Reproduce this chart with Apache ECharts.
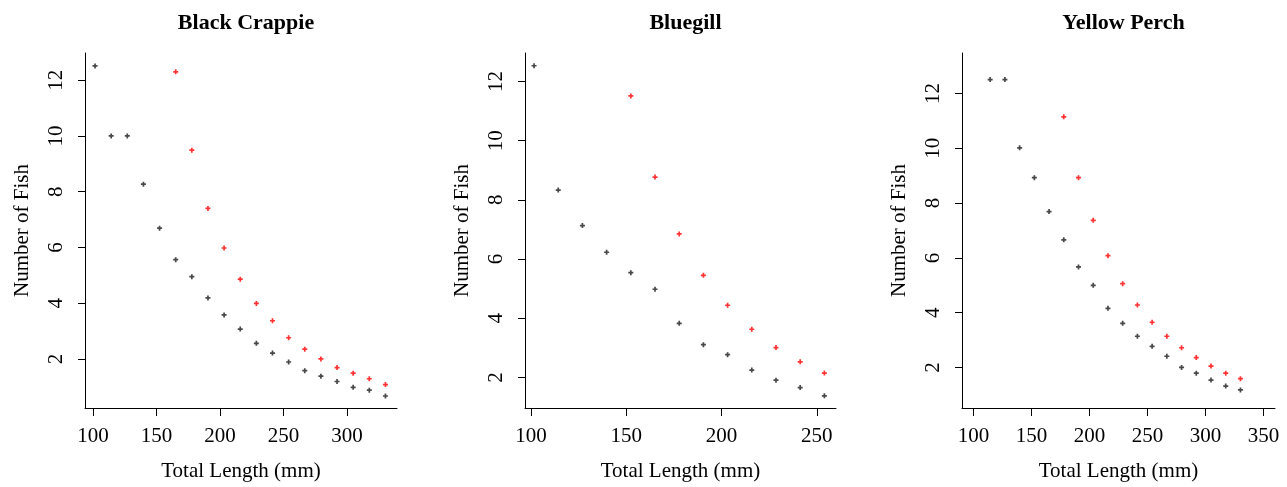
<!DOCTYPE html>
<html>
<head>
<meta charset="utf-8">
<script src="https://cdn.jsdelivr.net/npm/echarts@6/dist/echarts.min.js"></script>
<style>
html,body{margin:0;padding:0;background:#fff;}
#chart{width:1287px;height:487px;}
</style>
</head>
<body>
<div id="chart"></div>
<script>
// ---- data ----
const titles = ["Black Crappie", "Bluegill", "Yellow Perch"];

const crappieBlackLen = [101.6,114.3,127,139.7,152.4,165.1,177.8,190.5,203.2,215.9,228.6,241.3,254,266.7,279.4,292.1,304.8,317.5,330.2];
const crappieBlackNum = [12.51,10.0,10.0,8.27,6.69,5.56,4.95,4.19,3.58,3.07,2.56,2.21,1.89,1.58,1.38,1.19,0.98,0.88,0.67];
const crappieRedLen = [165.1,177.8,190.5,203.2,215.9,228.6,241.3,254,266.7,279.4,292.1,304.8,317.5,330.2];
const crappieRedNum = [12.30,9.49,7.40,5.98,4.86,3.99,3.37,2.76,2.35,2.0,1.69,1.49,1.29,1.08];

const bluegillBlackLen = [101.6,114.3,127,139.7,152.4,165.1,177.8,190.5,203.2,215.9,228.6,241.3,254];
const bluegillBlackNum = [12.53,8.33,7.13,6.23,5.54,4.98,3.83,3.11,2.77,2.25,1.91,1.66,1.38];
const bluegillRedLen = [152.4,165.1,177.8,190.5,203.2,215.9,228.6,241.3,254];
const bluegillRedNum = [11.51,8.77,6.85,5.45,4.44,3.63,3.01,2.53,2.15];

const perchBlackLen = [114.3,127,139.7,152.4,165.1,177.8,190.5,203.2,215.9,228.6,241.3,254,266.7,279.4,292.1,304.8,317.5,330.2];
const perchBlackNum = [12.51,12.51,10.02,8.93,7.69,6.66,5.67,5.0,4.16,3.61,3.14,2.77,2.41,2.0,1.79,1.54,1.32,1.18];
const perchRedLen = [177.8,190.5,203.2,215.9,228.6,241.3,254,266.7,279.4,292.1,304.8,317.5,330.2];
const perchRedNum = [11.15,8.93,7.37,6.08,5.06,4.28,3.65,3.14,2.72,2.36,2.05,1.79,1.59];

const xTicks1 = [100,150,200,250,300];
const xTicks2 = [100,150,200,250];
const xTicks3 = [100,150,200,250,300,350];
const yTicks = [2,4,6,8,10,12];

// ---- layout ----
const FONT = "Liberation Serif";
const panels = [
  {grid:{left:85, top:53, width:312, height:356}, x:[93.7,339.3], y:[0.24,12.975], xt:xTicks1,
   black:[crappieBlackLen,crappieBlackNum], red:[crappieRedLen,crappieRedNum]},
  {grid:{left:525, top:53, width:311, height:356}, x:[96.85,260.1], y:[0.97,12.96], xt:xTicks2,
   black:[bluegillBlackLen,bluegillBlackNum], red:[bluegillRedLen,bluegillRedNum]},
  {grid:{left:962, top:53, width:313, height:357}, x:[90,360], y:[0.52,13.48], xt:xTicks3,
   black:[perchBlackLen,perchBlackNum], red:[perchRedLen,perchRedNum]}
];

const zip = (a,b) => a.map((v,i)=>[v,b[i]]);
const plus = 'path://M3.3,0H6.7V3.3H10V6.7H6.7V10H3.3V6.7H0V3.3H3.3Z';

const option = {
  animation:false,
  backgroundColor:'#fff',
  title: panels.map((p,i)=>({
    text: titles[i],
    left: p.grid.left + p.grid.width/2,
    top: 7,
    textAlign:'center',
    textStyle:{fontFamily:FONT, fontWeight:'bold', fontSize:22, color:'#000'}
  })),
  grid: panels.map(p=>Object.assign({containLabel:false}, p.grid)),
  xAxis: panels.map((p,i)=>({
    type:'value', gridIndex:i, min:p.x[0], max:p.x[1],
    name:'Total Length (mm)', nameLocation:'middle', nameGap:53,
    nameTextStyle:{fontFamily:FONT, fontSize:21, color:'#000'},
    axisLine:{show:true, onZero:false, lineStyle:{color:'#000', width:1}},
    axisTick:{show:true, length:8, lineStyle:{color:'#000', width:1}, customValues:p.xt},
    axisLabel:{fontFamily:FONT, fontSize:21, color:'#000', margin:18, customValues:p.xt},
    splitLine:{show:false}
  })),
  yAxis: panels.map((p,i)=>({
    type:'value', gridIndex:i, min:p.y[0], max:p.y[1],
    name:'Number of Fish', nameLocation:'middle', nameGap:52,
    nameTextStyle:{fontFamily:FONT, fontSize:21, color:'#000'},
    axisLine:{show:true, onZero:false, lineStyle:{color:'#000', width:1}},
    axisTick:{show:true, length:7, lineStyle:{color:'#000', width:1}, customValues:yTicks},
    axisLabel:{fontFamily:FONT, fontSize:21, color:'#000', margin:18, rotate:90, customValues:yTicks},
    splitLine:{show:false}
  })),
  series: panels.flatMap((p,i)=>[
    {type:'scatter', xAxisIndex:i, yAxisIndex:i, data:zip(p.black[0],p.black[1]),
     symbol:plus, symbolSize:5, itemStyle:{color:'#1a1a1a'}},
    {type:'scatter', xAxisIndex:i, yAxisIndex:i, data:zip(p.red[0],p.red[1]),
     symbol:plus, symbolSize:5, itemStyle:{color:'#ff0000'}}
  ])
};

const chart = echarts.init(document.getElementById('chart'), null, {renderer:'canvas'});
chart.setOption(option);
</script>
</body>
</html>
